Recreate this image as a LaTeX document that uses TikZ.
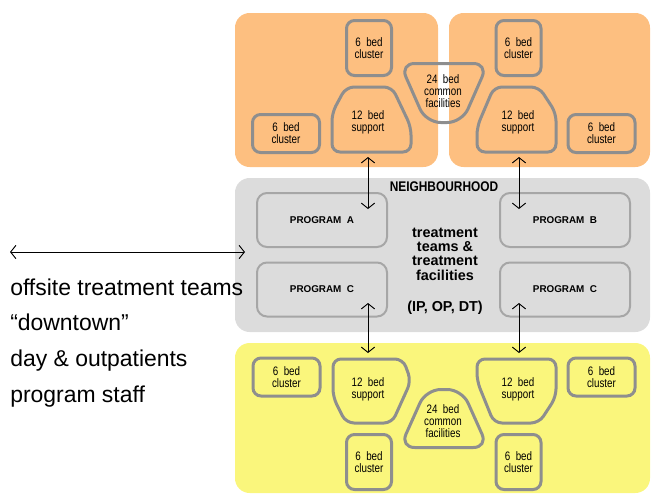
\documentclass[tikz,border=0pt]{standalone}
\usepackage{fontspec}
\setmainfont{Liberation Sans}
\newfontfamily\narrowfont[FakeStretch=0.8]{Liberation Sans}
\newfontfamily\hoodfont[FakeStretch=0.85]{Liberation Sans}
\usepackage{tikz}
\usetikzlibrary{arrows.meta}

\definecolor{wingorange}{RGB}{253,191,128}
\definecolor{hoodgray}{RGB}{220,220,220}
\definecolor{wingyellow}{RGB}{250,246,124}
\definecolor{unitline}{RGB}{142,142,142}
\definecolor{progline}{RGB}{166,166,166}

\begin{document}
\begin{tikzpicture}[x=0.75pt, y=-0.75pt,
  block/.style={rounded corners=11pt},
  unit/.style={draw=unitline, line width=2.25pt, rounded corners=6pt},
  bedtext/.style={font=\narrowfont\fontsize{9.2}{9}\selectfont, align=center, inner sep=0pt},
  tallcluster/.style={unit, bedtext, minimum width=33.75pt, minimum height=41.25pt},
  widecluster/.style={unit, bedtext, minimum width=50.25pt, minimum height=28.5pt},
  program/.style={draw=progline, line width=1.5pt, rounded corners=7.5pt,
                  minimum width=97.5pt, minimum height=40.5pt,
                  font=\bfseries\fontsize{7.4}{8}\selectfont},
  arrow/.style={<->, >={Straight Barb[length=4pt, width=10pt]}, line width=0.7pt},
  sidetext/.style={font=\fontsize{17.2}{20}\selectfont, anchor=base west, inner sep=0pt}
]
\useasboundingbox (0,0) rectangle (651,494);

% wings and neighbourhood
\fill[wingorange, block] (235,13) rectangle (438,167);
\fill[wingorange, block] (449,13) rectangle (650,167);
\fill[hoodgray, block] (235,178) rectangle (650,332);
\fill[wingyellow, block] (235,343) rectangle (650,493);

% upper wing
\node[tallcluster] (clTLa) at (369,48) {6\ \ bed\\cluster};
\node[widecluster] (clTLb) at (286,133.5) {6\ \ bed\\cluster};
\node[tallcluster] (clTRa) at (518.5,48) {6\ \ bed\\cluster};
\node[widecluster] (clTRb) at (601.5,133.5) {6\ \ bed\\cluster};
\draw[unit] (346,87) -- (392,87) -- (411,127) -- (411,152) -- (332,152) -- (332,113) -- cycle;
\node[bedtext] (supTL) at (368,122) {12\ \ bed\\support};
\draw[unit] (494,87) -- (539,87) -- (556,113) -- (556,152) -- (477,152) -- (477,127) -- cycle;
\node[bedtext] (supTR) at (518,122) {12\ \ bed\\support};
\draw[unit, rounded corners=11pt] (400,63.5) -- (488,63.5) -- (462,122.5) -- (426,122.5) -- cycle;
\node[bedtext] (comTop) at (443,91) {24\ \ bed\\common\\facilities};

% lower wing
\node[widecluster] (clBLa) at (286.5,377) {6\ \ bed\\cluster};
\node[tallcluster] (clBLb) at (369,462) {6\ \ bed\\cluster};
\node[widecluster] (clBRa) at (601.5,377) {6\ \ bed\\cluster};
\node[tallcluster] (clBRb) at (518.5,462) {6\ \ bed\\cluster};
\draw[unit] (333,359) -- (403,359) -- (411,381) -- (392,423) -- (346,423) -- (333,397) -- cycle;
\node[bedtext] (supBL) at (368,389) {12\ \ bed\\support};
\draw[unit] (477,359) -- (556,359) -- (556,397) -- (539,423) -- (494,423) -- (477,381) -- cycle;
\node[bedtext] (supBR) at (518,389) {12\ \ bed\\support};
\draw[unit, rounded corners=11pt] (426,389.5) -- (462,389.5) -- (488,447.5) -- (400,447.5) -- cycle;
\node[bedtext] (comBot) at (443,421) {24\ \ bed\\common\\facilities};

% neighbourhood programs
\node[program] (progA) at (322,220) {PROGRAM\ \ A};
\node[program] (progB) at (565,220) {PROGRAM\ \ B};
\node[program] (progCl) at (322,289.5) {PROGRAM\ \ C};
\node[program] (progCr) at (565,289.5) {PROGRAM\ \ C};
\node[font=\hoodfont\bfseries\fontsize{10.5}{12}\selectfont, inner sep=0pt] (hood) at (444,187) {NEIGHBOURHOOD};
\node[align=center, inner sep=0pt, font=\bfseries\fontsize{10.8}{10.8}\selectfont] (treat) at (445,254)
    {treatment\\teams \&\\treatment\\facilities};
\node[anchor=base, inner sep=0pt, font=\bfseries\fontsize{10.8}{12}\selectfont] (modes) at (445,311) {(IP, OP, DT)};

% offsite
\node[sidetext] (offsite) at (10,295) {offsite treatment teams};
\node[sidetext] (downtown) at (10,330) {“downtown”};
\node[sidetext] (daypat) at (10,366) {day \& outpatients};
\node[sidetext] (staff) at (10,402) {program staff};

% links
\coordinate (supTLfoot) at (368,157);
\coordinate (progAtip) at (368,209);
\coordinate (supTRfoot) at (519,157);
\coordinate (progBtip) at (519,209);
\coordinate (progCltip) at (368,303);
\coordinate (supBLhead) at (368,353);
\coordinate (progCrtip) at (519,303);
\coordinate (supBRhead) at (519,353);
\coordinate (offsiteend) at (10,252);
\coordinate (hoodend) at (245,252);

\draw[arrow] (supTLfoot) -- (progAtip);
\draw[arrow] (supTRfoot) -- (progBtip);
\draw[arrow] (progCltip) -- (supBLhead);
\draw[arrow] (progCrtip) -- (supBRhead);
\draw[arrow] (offsiteend) -- (hoodend);
\end{tikzpicture}
\end{document}
